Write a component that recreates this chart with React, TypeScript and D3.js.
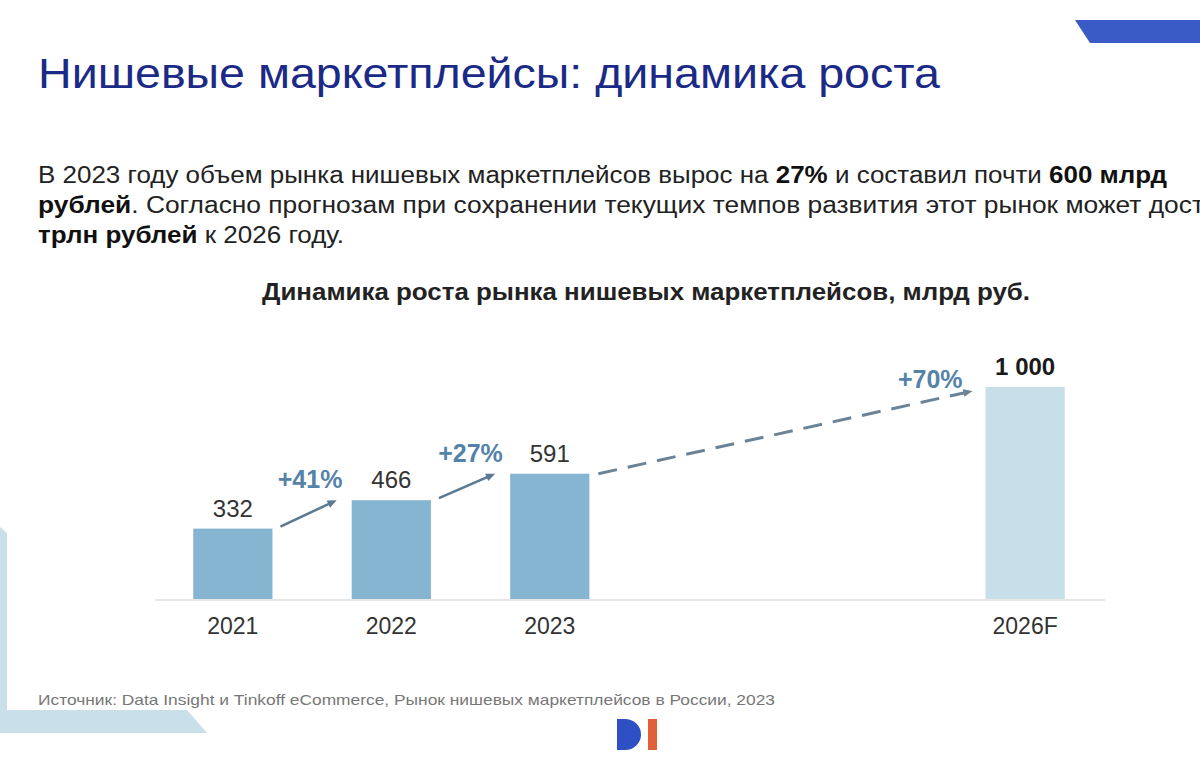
import React from "react";
import * as d3 from "d3";

const slots = ["2021", "2022", "2023", "2024", "2025", "2026F"];
const years = ["2021", "2022", "2023", "2026F"];
const values = [332, 466, 591, 1000];
const valueLabels = ["332", "466", "591", "1 000"];
const growthLabels = ["+41%", "+27%", "+70%"];

const W = 1200;
const H = 757;
const FONT = "'Liberation Sans', Arial, Helvetica, sans-serif";

export default function App() {
  const x = d3.scaleBand<string>().domain(slots).range([114, 1144]).paddingInner(0.5).paddingOuter(0.5);
  const y = d3.scaleLinear().domain([0, 1000]).range([599, 387]);
  const bw = x.bandwidth();

  const arrows = [0, 1].map((i) => {
    const a = years[i];
    const b = years[i + 1];
    const x1 = (x(a) as number) + bw + 8;
    const y1 = y(values[i]) - 2;
    const x2 = (x(b) as number) - 15;
    const y2 = y(values[i + 1]);
    return { x1, y1, x2, y2 };
  });
  const dashed = {
    x1: (x(years[2]) as number) + bw + 9,
    y1: y(values[2]),
    x2: (x(years[3]) as number) - 13,
    y2: y(values[3]) + 4,
  };

  const head = (x1: number, y1: number, x2: number, y2: number, size = 10) => {
    const ang = Math.atan2(y2 - y1, x2 - x1);
    const p1 = [x2 - size * Math.cos(ang - 0.4), y2 - size * Math.sin(ang - 0.4)];
    const p2 = [x2 - size * Math.cos(ang + 0.4), y2 - size * Math.sin(ang + 0.4)];
    return `M${x2},${y2}L${p1[0]},${p1[1]}L${p2[0]},${p2[1]}Z`;
  };
  const shorten = (x1: number, y1: number, x2: number, y2: number, d: number) => {
    const L = Math.hypot(x2 - x1, y2 - y1);
    return [x2 - ((x2 - x1) / L) * d, y2 - ((y2 - y1) / L) * d];
  };

  const arrowColor = "#5a7994";
  const labelColor = "#5583a8";

  return (
    <div style={{ position: "absolute", left: 0, top: 0, width: W, height: H, overflow: "hidden" }}>
      <svg width={W} height={H} style={{ display: "block", background: "#fff" }} fontFamily={FONT}>
        {/* decorative shapes */}
        <path d="M1075,20 L1200,20 L1200,43 L1090,43 Z" fill="#3a5bc6" />
        <path d="M0,527 L7,533 L7,710 L187,710 L207,733 L0,733 Z" fill="#c9dfea" />

        {/* title */}
        <text x={38} y={88} fontSize={43} fill="#1b2a86" textLength={902} lengthAdjust="spacingAndGlyphs">
          Нишевые маркетплейсы: динамика роста
        </text>

        {/* paragraph */}
        <g fontSize={23} fill="#222">
          <text x={38} y={183} textLength={1129} lengthAdjust="spacingAndGlyphs">
            В 2023 году объем рынка нишевых маркетплейсов вырос на{" "}
            <tspan fontWeight="bold" fill="#111">27%</tspan> и составил почти{" "}
            <tspan fontWeight="bold" fill="#111">600 млрд</tspan>
          </text>
          <text x={38} y={213} textLength={1166} lengthAdjust="spacingAndGlyphs">
            <tspan fontWeight="bold" fill="#111">рублей</tspan>. Согласно прогнозам при сохранении текущих темпов развития этот рынок может дост
          </text>
          <text x={38} y={243} textLength={306} lengthAdjust="spacingAndGlyphs">
            <tspan fontWeight="bold" fill="#111">трлн рублей</tspan> к 2026 году.
          </text>
        </g>

        {/* chart title */}
        <text x={646} y={300} textAnchor="middle" fontSize={23} fontWeight="bold" fill="#222" textLength={768} lengthAdjust="spacingAndGlyphs">
          Динамика роста рынка нишевых маркетплейсов, млрд руб.
        </text>

        {/* baseline */}
        <line x1={155} x2={1105} y1={y(0) + 1} y2={y(0) + 1} stroke="#e6e6e6" strokeWidth={2} />

        {/* bars */}
        {years.map((yr, i) => (
          <rect
            key={yr}
            x={x(yr)}
            y={y(values[i])}
            width={bw}
            height={y(0) - y(values[i])}
            fill={i === 3 ? "#c7dfe9" : "#86b5d1"}
          />
        ))}

        {/* value labels */}
        {years.map((yr, i) => (
          <text
            key={"v" + yr}
            x={(x(yr) as number) + bw / 2}
            y={y(values[i]) - 12}
            textAnchor="middle"
            fontSize={24}
            fontWeight={i === 3 ? "bold" : "normal"}
            fill={i === 3 ? "#1a1a1a" : "#333"}
          >
            {valueLabels[i]}
          </text>
        ))}

        {/* year labels */}
        {years.map((yr) => (
          <text key={"y" + yr} x={(x(yr) as number) + bw / 2} y={634} textAnchor="middle" fontSize={23} fill="#333">
            {yr}
          </text>
        ))}

        {/* solid arrows */}
        {arrows.map((a, i) => {
          const [ex, ey] = shorten(a.x1, a.y1, a.x2, a.y2, 8);
          return (
            <g key={"a" + i}>
              <line x1={a.x1} y1={a.y1} x2={ex} y2={ey} stroke={arrowColor} strokeWidth={2.5} />
              <path d={head(a.x1, a.y1, a.x2, a.y2)} fill={arrowColor} />
            </g>
          );
        })}
        {(() => {
          const [ex, ey] = shorten(dashed.x1, dashed.y1, dashed.x2, dashed.y2, 8);
          return (
            <g>
              <line x1={dashed.x1} y1={dashed.y1} x2={ex} y2={ey} stroke="#6a8396" strokeWidth={3} strokeDasharray="19 11" />
              <path d={head(dashed.x1, dashed.y1, dashed.x2, dashed.y2, 10)} fill="#6a8396" />
            </g>
          );
        })()}

        {/* growth labels */}
        <text x={((x(years[0]) as number) + bw + (x(years[1]) as number)) / 2 - 2} y={y(values[1]) - 12} textAnchor="middle" fontSize={25} fontWeight="bold" fill={labelColor}>
          {growthLabels[0]}
        </text>
        <text x={((x(years[1]) as number) + bw + (x(years[2]) as number)) / 2} y={y(values[2]) - 12} textAnchor="middle" fontSize={25} fontWeight="bold" fill={labelColor}>
          {growthLabels[1]}
        </text>
        <text x={(x(years[3]) as number) - 23} y={y(values[3]) + 1} textAnchor="end" fontSize={25} fontWeight="bold" fill={labelColor}>
          {growthLabels[2]}
        </text>

        {/* source */}
        <text x={38} y={705} fontSize={15} fill="#777" textLength={737} lengthAdjust="spacingAndGlyphs">
          Источник: Data Insight и Tinkoff eCommerce, Рынок нишевых маркетплейсов в России, 2023
        </text>

        {/* logo */}
        <path d="M617,719 L625,719 A16,15.5 0 0 1 625,750 L617,750 Z" fill="#2f4fc4" />
        <rect x={648} y={719} width={9} height={31} fill="#e0603a" />
      </svg>
    </div>
  );
}
